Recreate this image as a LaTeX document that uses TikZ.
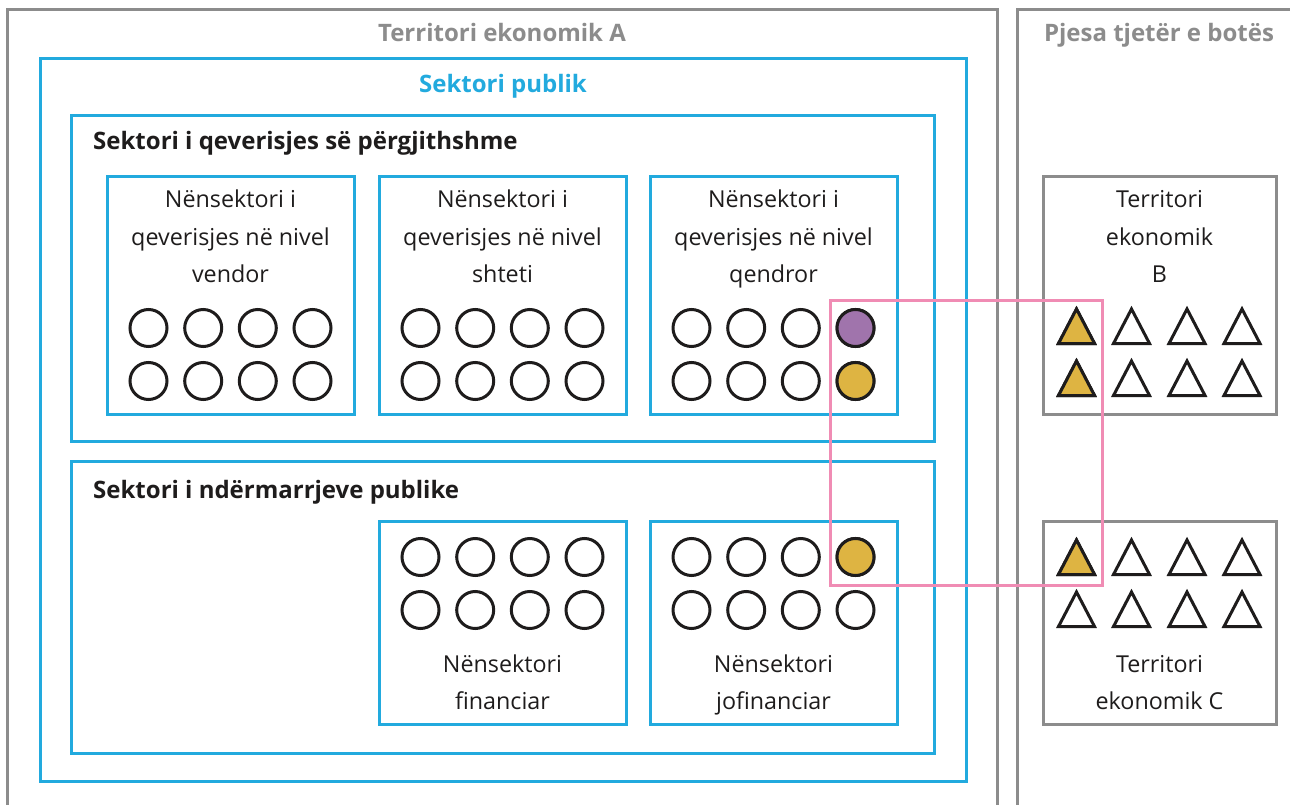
\documentclass[tikz,border=0pt]{standalone}
\usepackage{fontspec}
\setmainfont{Open Sans}
\definecolor{bl}{RGB}{34,170,222}
\definecolor{gr}{RGB}{140,140,140}
\definecolor{pk}{RGB}{240,140,180}
\definecolor{pu}{RGB}{160,116,172}
\definecolor{go}{RGB}{222,180,66}
\definecolor{ink}{RGB}{30,28,28}
\tikzset{
  bluebox/.style={draw=bl,line width=3pt,rectangle,inner sep=0pt},
  greybox/.style={draw=gr,line width=3pt,rectangle,inner sep=0pt},
  dot/.style={circle,draw=ink,line width=3pt,minimum size=37pt,inner sep=0pt,fill=white},
  tri/.style={draw=ink,line width=3pt,fill=white,line join=miter},
  body/.style={font=\fontsize{23.3}{37.5}\selectfont,text=ink,align=center,inner sep=0pt,text depth=6pt,anchor=south},
  head/.style={font=\fontsize{24}{28}\selectfont\bfseries,text=ink,inner sep=0pt,anchor=base west},
  ghead/.style={font=\fontsize{24}{28}\selectfont\bfseries,text=gr,inner sep=0pt,anchor=base},
}
\newcommand{\dotgrid}[3]{% name, center x, y
  \foreach \dx [count=\i] in {-82,-27.3,27.3,82}{
    \node[dot] (#1-a\i) at ({#2+\dx},#3) {};
  }}
\begin{document}
\begin{tikzpicture}[x=1pt,y=-1pt]
\useasboundingbox (0,0) rectangle (1290,805);
\fill[white] (0,0) rectangle (1290,805);
% outer grey regions (open at the bottom / right)
\draw[gr,line width=3pt] (7,820) -- (7,10) -- (997,10) -- (997,820);
\draw[gr,line width=3pt] (1017,820) -- (1017,10) -- (1310,10);
\node[ghead] (tA) at (502,42) {Territori ekonomik A};
\node[ghead] (tW) at (1159,42) {Pjesa tjetër e botës};
% public sector
\node[bluebox,minimum width=926pt,minimum height=722pt] (pub) at (503,420) {};
\node[ghead,text=bl] (pubt) at (503,93) {Sektori publik};
% general government
\node[bluebox,minimum width=863pt,minimum height=325pt] (gov) at (502.5,278.5) {};
\node[head] (govt) at (93,150) {Sektori i qeverisjes së përgjithshme};
\node[bluebox,minimum width=247pt,minimum height=237pt] (g1) at (230.5,295.5) {};
\node[bluebox,minimum width=247pt,minimum height=237pt] (g2) at (502.5,295.5) {};
\node[bluebox,minimum width=247pt,minimum height=237pt] (g3) at (773.5,295.5) {};
\node[body] (g1t) at (230.5,289) {Nënsektori i\\qeverisjes në nivel\\vendor};
\node[body] (g2t) at (502.5,289) {Nënsektori i\\qeverisjes në nivel\\shteti};
\node[body] (g3t) at (773.5,289) {Nënsektori i\\qeverisjes në nivel\\qendror};
% public enterprises
\node[bluebox,minimum width=863pt,minimum height=292pt] (ent) at (502.5,607) {};
\node[head] (entt) at (93,498) {Sektori i ndërmarrjeve publike};
\node[bluebox,minimum width=247pt,minimum height=203pt] (e1) at (502.5,622.5) {};
\node[bluebox,minimum width=247pt,minimum height=203pt] (e2) at (773.5,622.5) {};
\node[body] (e1t) at (502.5,716) {Nënsektori\\financiar};
\node[body] (e2t) at (773.5,716) {Nënsektori\\jofinanciar};
% circles
\dotgrid{g1r1}{230.5}{328}
\dotgrid{g1r2}{230.5}{381}
\dotgrid{g2r1}{502.5}{328}
\dotgrid{g2r2}{502.5}{381}
\dotgrid{g3r1}{773.5}{328}
\dotgrid{g3r2}{773.5}{381}
\dotgrid{e1r1}{502.5}{557}
\dotgrid{e1r2}{502.5}{610}
\dotgrid{e2r1}{773.5}{557}
\dotgrid{e2r2}{773.5}{610}
\node[dot,fill=pu] at (g3r1-a4) {};
\node[dot,fill=go] at (g3r2-a4) {};
\node[dot,fill=go] at (e2r1-a4) {};
% rest of the world
\node[greybox,minimum width=233pt,minimum height=237pt] (tb) at (1159.5,295.5) {};
\node[greybox,minimum width=233pt,minimum height=203pt] (tc) at (1159.5,622.5) {};
\node[body] (tbt) at (1159.5,289) {Territori\\ekonomik\\B};
\node[body] (tct) at (1159.5,716) {Territori\\ekonomik C};
\foreach \cy in {327,379,558,610}{
  \foreach \cx in {1076.5,1131.5,1187,1242}{
    \draw[tri] (\cx,\cy-18) -- (\cx+18,\cy+16.5) -- (\cx-18,\cy+16.5) -- cycle;
  }
}
\foreach \cy in {327,379,558}{
  \draw[tri,fill=go] (1076.5,\cy-18) -- (1076.5+18,\cy+16.5) -- (1076.5-18,\cy+16.5) -- cycle;
}
% link box
\draw[pk,line width=3pt] (830,300) rectangle (1102,585);
\end{tikzpicture}
\end{document}
